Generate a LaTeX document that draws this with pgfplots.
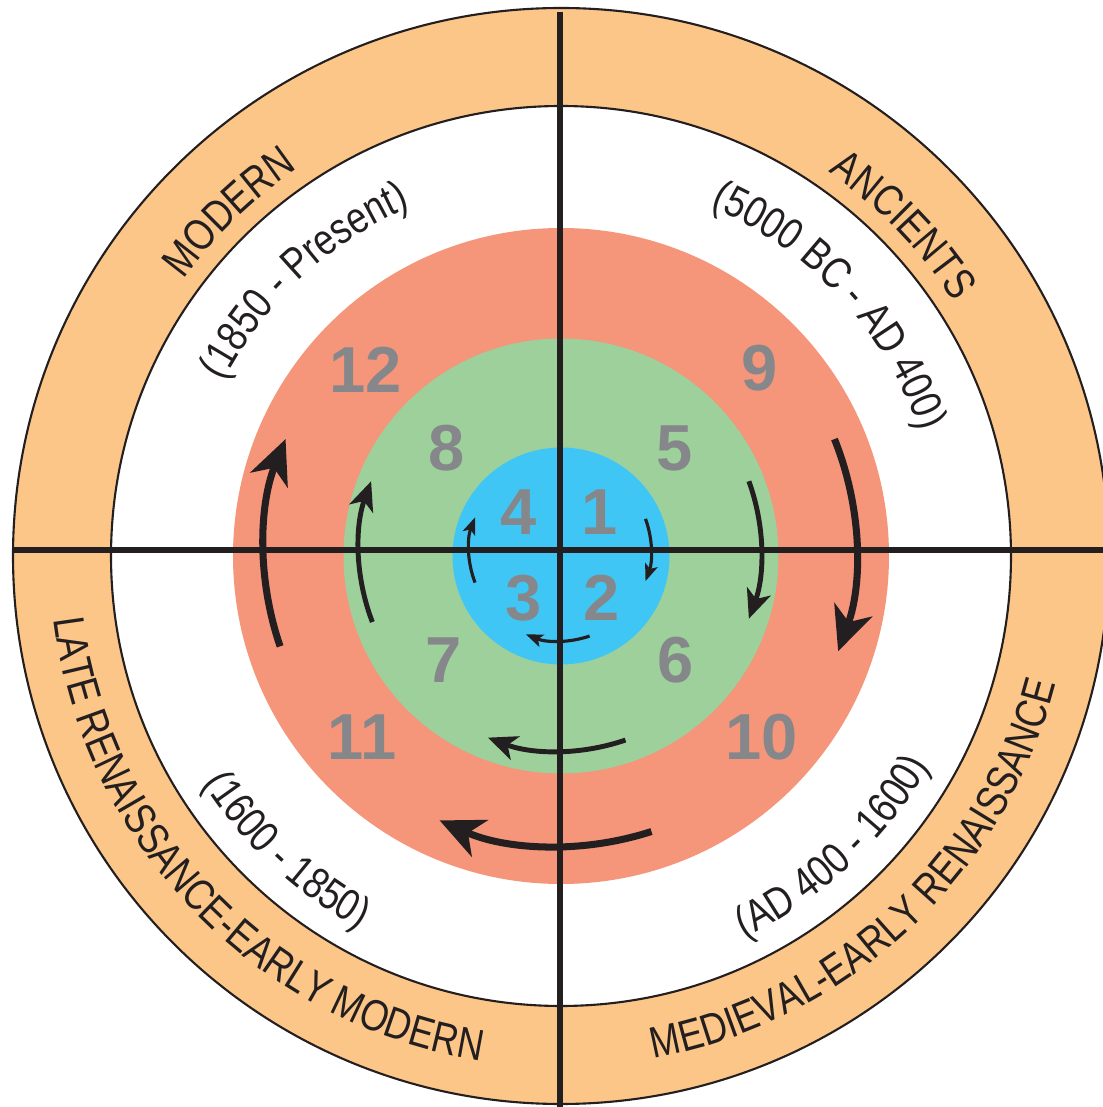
\documentclass[border=0pt]{standalone}
\usepackage{fontspec}
\setmainfont{Liberation Sans}
\newfontfamily\labfont[FakeStretch=0.82]{Liberation Sans}
\usepackage{pgfplots}
\pgfplotsset{compat=1.18}
\usetikzlibrary{decorations.text,arrows.meta}

\definecolor{ringor}{HTML}{FCC688}
\definecolor{salmon}{HTML}{F5957A}
\definecolor{leaf}{HTML}{9DD09B}
\definecolor{sky}{HTML}{40C6F4}
\definecolor{numgray}{HTML}{86878A}
\definecolor{ink}{HTML}{231F20}

\begin{document}
\begin{tikzpicture}
\begin{axis}[
    width=11.03cm, height=11.07cm, scale only axis,
    xmin=-561, xmax=542, ymin=-551, ymax=556,
    hide axis,
  ]
  % rings (1 axis unit = 0.1 mm)
  \fill[ringor] (axis cs:0,0) circle[radius=54.8mm];
  \draw[ink, line width=0.6pt] (axis cs:0,0) circle[radius=54.8mm];
  \fill[white] (axis cs:0,0) circle[radius=45mm];
  \draw[ink, line width=0.6pt] (axis cs:0,0) circle[radius=45mm];
  \fill[salmon] (axis cs:0,0) circle[radius=32.8mm];
  \fill[leaf] (axis cs:0,0) circle[radius=21.75mm];
  \fill[sky] (axis cs:0,0) circle[radius=10.85mm];

  % cross
  \draw[ink, line width=1.6pt] (axis cs:-1,544) -- (axis cs:-1,-560);
  \draw[ink, line width=1.6pt] (axis cs:-548,6) -- (axis cs:560,6);

  % numbers
  \tikzset{num/.style={text=numgray, font=\bfseries\fontsize{18.5}{18.5}\selectfont, inner sep=0pt}}
  \node[num] at (axis cs:-195,186) {12};
  \node[num] at (axis cs:199,188) {9};
  \node[num] at (axis cs:-114,108) {8};
  \node[num] at (axis cs:114,108) {5};
  \node[num] at (axis cs:-42,44) {4};
  \node[num] at (axis cs:39,44) {1};
  \node[num] at (axis cs:-37,-42) {3};
  \node[num] at (axis cs:41,-42) {2};
  \node[num] at (axis cs:-117,-104) {7};
  \node[num] at (axis cs:115,-104) {6};
  \node[num] at (axis cs:-199,-181) {11};
  \node[num] at (axis cs:201,-181) {10};

  % arrows
  \tikzset{
    ra/.style={ink, line width=2pt, -{Stealth[length=4.4mm, width=4mm, inset=1.3mm]}},
    ga/.style={ink, line width=1.4pt, -{Stealth[length=2.9mm, width=2.5mm, inset=0.8mm]}},
    ba/.style={ink, line width=0.9pt, -{Stealth[length=1.7mm, width=1.3mm, inset=0.4mm]}},
  }
  % red ring
  \draw[ra] (axis cs:273.45,116.88) arc[start angle=22, end angle=-20, radius=29.6mm];
  \draw[ra] (axis cs:90.47,-275.51) arc[start angle=-72, end angle=-114, radius=29.6mm];
  \draw[ra] (axis cs:-280.87,-90.37) arc[start angle=199, end angle=158, radius=29.6mm];
  % green ring
  \draw[ga] (axis cs:187.88,74.75) arc[start angle=20, end angle=-20, radius=20.1mm];
  \draw[ga] (axis cs:64.44,-184.05) arc[start angle=-71, end angle=-111, radius=20.1mm];
  \draw[ga] (axis cs:-188.65,-66.03) arc[start angle=201, end angle=160, radius=20.1mm];
  % blue disc
  \draw[ba] (axis cs:84.51,37.12) arc[start angle=20, end angle=-20, radius=9.1mm];
  \draw[ba] (axis cs:28.63,-80.04) arc[start angle=-71, end angle=-112, radius=9.1mm];
  \draw[ba] (axis cs:-85.96,-26.61) arc[start angle=201, end angle=159, radius=9.1mm];

  % curved labels
  \tikzset{lab/.style={decorate, decoration={text along path, text align=center,
      text color=ink, text={|\labfont\fontsize{12.5}{12.5}\selectfont|#1}}}}
  \path[lab={MODERN}] (axis cs:-467.93,8.17) arc[start angle=179, end angle=89, radius=46.8mm];
  \path[lab={ANCIENTS}] (axis cs:8.17,467.93) arc[start angle=89, end angle=-1, radius=46.8mm];
  \path[lab={(1850 - Present)}] (axis cs:-379.77,13.26) arc[start angle=178, end angle=88, radius=38mm];
  \path[lab={(5000 BC - AD 400)}] (axis cs:13.26,379.77) arc[start angle=88, end angle=-2, radius=38mm];
  \path[lab={LATE RENAISSANCE-EARLY MODERN}] (axis cs:-510.92,8.92) arc[start angle=179, end angle=269, radius=51.1mm];
  \path[lab={MEDIEVAL-EARLY RENAISSANCE}] (axis cs:-17.83,-510.69) arc[start angle=268, end angle=358, radius=51.1mm];
  \path[lab={(1600 - 1850)}] (axis cs:-423.74,-14.80) arc[start angle=182, end angle=272, radius=42.4mm];
  \path[lab={(AD 400 - 1600)}] (axis cs:-14.80,-423.74) arc[start angle=268, end angle=358, radius=42.4mm];
\end{axis}
\pgfresetboundingbox
\path[use as bounding box] (current axis.south west) rectangle (current axis.north east);
\end{tikzpicture}
\end{document}
